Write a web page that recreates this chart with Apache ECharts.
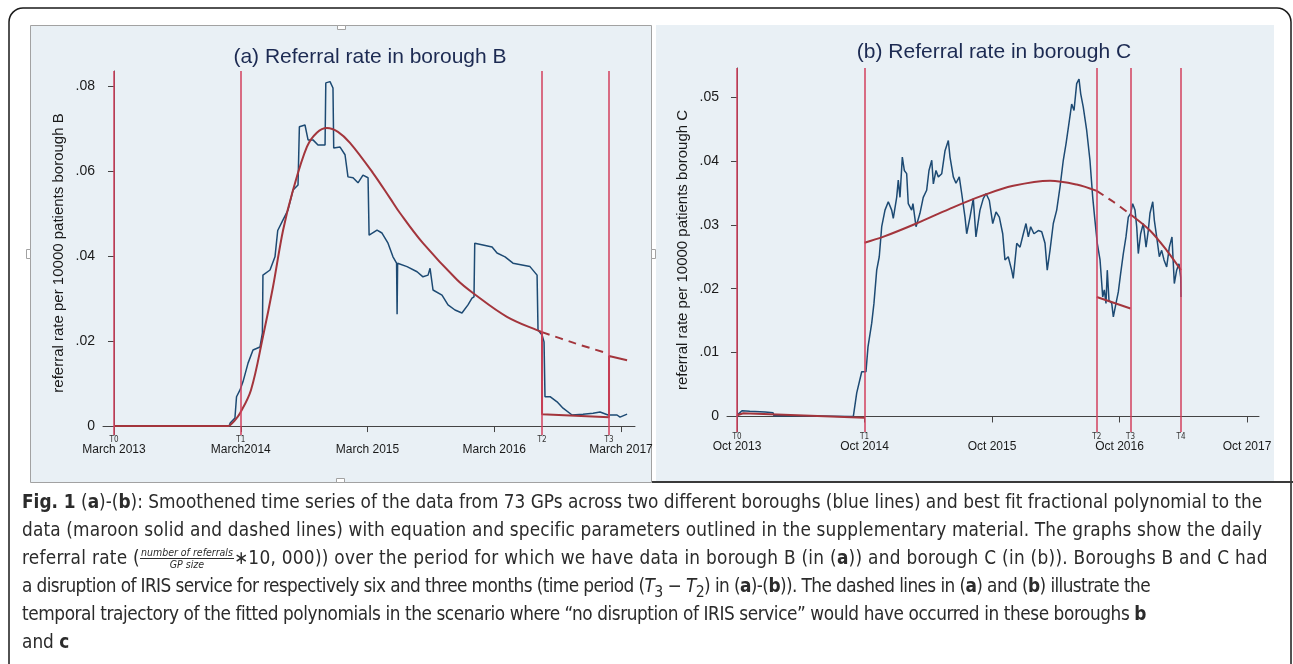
<!DOCTYPE html>
<html>
<head>
<meta charset="utf-8">
<title>Referral rate in boroughs B and C</title>
<script src="https://cdn.jsdelivr.net/npm/echarts@6/dist/echarts.min.js"></script>
<style>
  html, body { margin: 0; padding: 0; background: #fff; }
  #chart { position: absolute; left: 0; top: 0; width: 1293px; height: 664px; }
  #caption {
    position: absolute; left: 22px; top: 488px;
    font-family: "DejaVu Sans Condensed", "Open Sans", sans-serif;
    font-size: 17px; color: #2b2b2b; white-space: nowrap;
  }
  #caption .ln { height: 28.1px; line-height: 28.1px; }
  .frac { display: inline-block; vertical-align: middle; text-align: center;
          font-size: 10.5px; font-style: italic; line-height: 11px; letter-spacing: 0; }
  .frac span { display: block; padding: 0 1px; }
  .frac .num { border-bottom: 1px solid #2b2b2b; }
</style>
</head>
<body>
<div id="chart"></div>
<div id="caption">
  <div class="ln"><span class="t"><b>Fig. 1</b> (<b>a</b>)-(<b>b</b>): Smoothened time series of the data from 73 GPs across two different boroughs (blue lines) and best fit fractional polynomial to the</span></div>
  <div class="ln"><span class="t">data (maroon solid and dashed lines) with equation and specific parameters outlined in the supplementary material. The graphs show the daily</span></div>
  <div class="ln"><span class="t">referral rate (<span class="frac"><span class="num">number of referrals</span><span class="den">GP size</span></span>∗10, 000)) over the period for which we have data in borough B (in (<b>a</b>)) and borough C (in (b)). Boroughs B and C had</span></div>
  <div class="ln"><span class="t">a disruption of IRIS service for respectively six and three months (time period (<i>T</i><sub>3</sub> − <i>T</i><sub>2</sub>) in (<b>a</b>)-(<b>b</b>)). The dashed lines in (<b>a</b>) and (<b>b</b>) illustrate the</span></div>
  <div class="ln"><span class="t">temporal trajectory of the fitted polynomials in the scenario where “no disruption of IRIS service” would have occurred in these boroughs <b>b</b></span></div>
  <div class="ln"><span class="t">and <b>c</b></span></div>
</div>
<script>
// x = months since March 2013 (panel a) / since Oct 2013 (panel b)
const tickMonthsA = [0, 12, 24, 36, 48];
const tickLabelsA = ['March 2013', 'March2014', 'March 2015', 'March 2016', 'March 2017'];
const tickMonthsB = [0, 12, 24, 36, 48];
const tickLabelsB = ['Oct 2013', 'Oct 2014', 'Oct 2015', 'Oct 2016', 'Oct 2017'];
const yTicksA = [0, 0.02, 0.04, 0.06, 0.08];
const yTicksB = [0, 0.01, 0.02, 0.03, 0.04, 0.05];

const eventsA = [0, 12.0, 40.52, 46.86];
const eventNamesA = ['T0', 'T1', 'T2', 'T3'];
const eventsB = [0, 12.0, 33.86, 37.04, 41.79];
const eventNamesB = ['T0', 'T1', 'T2', 'T3', 'T4'];

// borough B, smoothed daily referral rate
const rateA = [
  [0, 0], [10.9, 0], [11.0, 0.0007], [11.45, 0.0019], [11.6, 0.0069], [11.93, 0.0085],
  [12.21, 0.0104], [12.69, 0.0148], [13.16, 0.0179], [13.82, 0.0186], [14.05, 0.0219],
  [14.1, 0.0355], [14.77, 0.0367], [15.24, 0.0398], [15.5, 0.046], [16.0, 0.0485],
  [16.47, 0.0508], [16.95, 0.0555], [17.42, 0.0567], [17.55, 0.0704], [18.08, 0.0708],
  [18.37, 0.0673], [18.84, 0.0673], [19.31, 0.0661], [19.98, 0.0661], [20.05, 0.0807],
  [20.45, 0.081], [20.73, 0.0795], [20.8, 0.0654], [21.4, 0.0656], [21.87, 0.0638],
  [22.15, 0.0586], [22.63, 0.0584], [23.1, 0.0572], [23.57, 0.059], [24.05, 0.0584],
  [24.15, 0.0449], [24.9, 0.0461], [25.37, 0.0454], [25.94, 0.043], [26.41, 0.0398],
  [26.75, 0.0383], [26.8, 0.0263], [26.85, 0.0383], [27.74, 0.0375], [28.69, 0.0363],
  [29.25, 0.0351], [29.73, 0.0355], [29.92, 0.0371], [30.2, 0.032], [31.05, 0.0308],
  [31.62, 0.0285], [32.28, 0.0273], [32.94, 0.0266], [33.51, 0.0285], [33.89, 0.0301],
  [34.08, 0.0304], [34.15, 0.043], [34.93, 0.0426], [35.79, 0.0421], [36.26, 0.0407],
  [37.02, 0.0398], [37.77, 0.0383], [38.63, 0.0379], [39.38, 0.0375], [40.05, 0.0355],
  [40.14, 0.0226], [40.52, 0.0214], [40.71, 0.0198], [40.8, 0.0069], [41.28, 0.0069],
  [41.94, 0.0057], [42.51, 0.0042], [43.36, 0.0026], [44.4, 0.0028], [45.35, 0.003],
  [46.01, 0.0033], [46.77, 0.0026], [47.62, 0.0026], [47.9, 0.0021], [48.57, 0.0028]
];
// fractional polynomial fit, borough B
const fitFlatA = [[0, 0], [10.9, 0]];
const fitA = [
  [10.9, 0], [11.4, 0.0012], [11.93, 0.003], [12.97, 0.0085], [14.1, 0.021],
  [15.05, 0.0327], [16.0, 0.046], [16.95, 0.0555], [18.27, 0.0657], [19.2, 0.069],
  [20.16, 0.0701], [21.2, 0.0692], [22.34, 0.0666], [24.52, 0.0595], [26.13, 0.0536],
  [27.07, 0.0501], [29.25, 0.043], [32.47, 0.0344], [33.98, 0.0313], [37.2, 0.0257],
  [40.52, 0.0221]
];
const fitDisruptA = [[40.52, 0.0221], [40.52, 0.0028], [46.86, 0.0021], [46.86, 0.0165], [48.57, 0.0155]];
const fitNoDisruptA = [[40.52, 0.0221], [43.6, 0.0195], [46.86, 0.017]];

// borough C
const rateB = [
  [0, 0], [0.15, 0.0004], [0.47, 0.0009], [1.2, 0.0008], [2.64, 0.0007], [3.39, 0.0006],
  [3.48, 0.0001], [6, 0.0001], [10.64, 0], [10.95, 0], [11.27, 0.0037], [11.74, 0.007],
  [12.14, 0.007], [12.33, 0.0109], [12.68, 0.0146], [12.89, 0.0177], [13.15, 0.0229],
  [13.39, 0.025], [13.62, 0.0297], [13.93, 0.0323], [14.24, 0.0336], [14.56, 0.0323],
  [14.71, 0.031], [15.03, 0.0343], [15.18, 0.037], [15.34, 0.0343], [15.56, 0.0406],
  [15.75, 0.0385], [15.97, 0.038], [16.12, 0.0333], [16.44, 0.0323], [16.56, 0.0333],
  [16.85, 0.0297], [17.22, 0.0318], [17.53, 0.0343], [17.85, 0.0354], [18.07, 0.0385],
  [18.33, 0.0401], [18.48, 0.0364], [18.73, 0.0385], [18.95, 0.0375], [19.27, 0.038],
  [19.58, 0.0416], [19.89, 0.0432], [20.05, 0.0406], [20.36, 0.0375], [20.61, 0.0365],
  [20.92, 0.0375], [21.15, 0.0349], [21.46, 0.0312], [21.62, 0.0286], [21.93, 0.0312],
  [22.24, 0.0341], [22.49, 0.0281], [22.87, 0.0323], [23.18, 0.0341], [23.44, 0.0349],
  [23.75, 0.0338], [24.07, 0.0302], [24.38, 0.032], [24.69, 0.0312], [25.01, 0.0286],
  [25.22, 0.0245], [25.53, 0.025], [25.85, 0.0229], [26.0, 0.0216], [26.33, 0.0271],
  [26.64, 0.0265], [26.95, 0.0286], [27.2, 0.0302], [27.42, 0.0281], [27.64, 0.0297],
  [27.95, 0.0286], [28.36, 0.0291], [28.68, 0.0289], [28.99, 0.0271], [29.2, 0.0229],
  [29.46, 0.026], [29.77, 0.0302], [30.09, 0.0323], [30.4, 0.0359], [30.71, 0.0401],
  [30.97, 0.0427], [31.28, 0.0463], [31.5, 0.0489], [31.72, 0.0479], [31.97, 0.0521],
  [32.19, 0.0528], [32.35, 0.0505], [32.59, 0.0484], [32.91, 0.0448], [33.22, 0.0401],
  [33.48, 0.0343], [33.69, 0.0307], [33.91, 0.0271], [34.17, 0.0245], [34.42, 0.0187],
  [34.57, 0.0198], [34.73, 0.0177], [34.85, 0.0229], [35.01, 0.0182], [35.27, 0.0177],
  [35.42, 0.0156], [35.67, 0.0177], [35.89, 0.0195], [36.11, 0.0224], [36.36, 0.0255],
  [36.61, 0.0281], [36.83, 0.0312], [37.05, 0.0318], [37.24, 0.0333], [37.46, 0.0323],
  [37.62, 0.0297], [37.77, 0.0255], [37.99, 0.0286], [38.24, 0.0302], [38.5, 0.0265],
  [38.71, 0.0291], [38.87, 0.0318], [39.13, 0.0336], [39.28, 0.0307], [39.5, 0.0281],
  [39.75, 0.025], [39.97, 0.026], [40.19, 0.0245], [40.44, 0.0234], [40.69, 0.0265],
  [40.94, 0.0281], [41.16, 0.0208], [41.38, 0.0229], [41.6, 0.0239], [41.76, 0.0218],
  [41.79, 0.0187]
];
const fitPreB = [[0, 0.0002], [0.6, 0.0005], [12.0, -0.0002]];
const fitB = [
  [12.0, 0.0272], [13.74, 0.0281], [16.88, 0.0302], [20.01, 0.0325], [23.15, 0.0346],
  [26.0, 0.0361], [29.46, 0.0369], [31.97, 0.0363], [33.86, 0.0353]
];
const fitNoDisruptB = [[33.86, 0.0353], [35.42, 0.0336], [37.04, 0.0316]];
const fitDisruptB = [[33.86, 0.0187], [37.04, 0.0169]];
const fitAfterB = [[37.04, 0.0316], [38.87, 0.0291], [40.44, 0.026], [41.79, 0.0229]];

const NAVY = '#1d4a73';
const MAROON = '#a3353c';
const TRED = '#d2405d';
const BG = '#e9f0f5';
const FRAME = '#a2a2a2';

function yFmt(v) {
  return v === 0 ? '0' : v.toFixed(2).replace(/^0/, '');
}

function xAxisFor(grid, min, max, ticks, labels) {
  return {
    type: 'value', gridIndex: grid, min: min, max: max,
    axisLine: { show: true, lineStyle: { color: '#444', width: 1 } },
    axisTick: { show: true, customValues: ticks, length: 6, lineStyle: { color: '#444' } },
    axisLabel: {
      customValues: ticks, margin: 9, fontSize: 12, color: '#1a1a1a',
      fontFamily: 'Liberation Sans',
      formatter: function (v) { return labels[ticks.indexOf(v)]; }
    },
    splitLine: { show: false }
  };
}

function yAxisFor(grid, min, max, ticks, name) {
  return {
    type: 'value', gridIndex: grid, min: min, max: max,
    name: name, nameLocation: 'middle', nameGap: 37, nameRotate: 90,
    nameTextStyle: { fontSize: 15, color: '#1a1a1a', fontFamily: 'Liberation Sans' },
    axisLine: { show: true, lineStyle: { color: '#444', width: 1 } },
    axisTick: { show: true, customValues: ticks, length: 6, lineStyle: { color: '#444' } },
    axisLabel: {
      customValues: ticks, margin: 8, fontSize: 14, color: '#1a1a1a',
      fontFamily: 'Liberation Sans', formatter: yFmt
    },
    splitLine: { show: false }
  };
}

function eventLines(xs, names) {
  return {
    silent: true, symbol: ['none', 'none'],
    lineStyle: { color: TRED, width: 1.5, type: 'solid' },
    label: {
      show: true, position: 'start', distance: 1, fontSize: 8, color: '#333',
      fontFamily: 'DejaVu Sans Condensed',
      formatter: function (p) { return names[xs.indexOf(p.value)]; }
    },
    data: xs.map(function (x) { return { xAxis: x }; })
  };
}

function lineSeries(grid, data, color, width, extra) {
  return Object.assign({
    type: 'line', xAxisIndex: grid, yAxisIndex: grid, data: data,
    showSymbol: false, symbol: 'none', silent: true,
    lineStyle: { color: color, width: width }
  }, extra || {});
}

// small tabs on the frame of panel (a)
function tab(x, y, w, h) {
  return { type: 'rect', z: -8, shape: { x: x, y: y, width: w, height: h },
           style: { fill: '#fff', stroke: FRAME, lineWidth: 1 } };
}

const chart = echarts.init(document.getElementById('chart'), null, { renderer: 'canvas' });

chart.setOption({
  animation: false,
  backgroundColor: '#fff',
  textStyle: { fontFamily: 'Liberation Sans' },
  graphic: [
    { type: 'rect', z: -20, shape: { x: 9, y: 8, width: 1282, height: 720, r: 14 },
      style: { fill: '#fff', stroke: '#1a1a1a', lineWidth: 1.5 } },
    { type: 'rect', z: -10, shape: { x: 30.5, y: 25.5, width: 621, height: 457 },
      style: { fill: BG, stroke: FRAME, lineWidth: 1 } },
    { type: 'rect', z: -10, shape: { x: 656, y: 25, width: 618, height: 456 },
      style: { fill: BG } },
    { type: 'line', z: -9, shape: { x1: 652, y1: 482, x2: 1293, y2: 482 },
      style: { stroke: '#3a3a3a', lineWidth: 2 } },
    tab(337.5, 25.5, 8, 4), tab(26.5, 249.5, 4, 9), tab(651.5, 249.5, 4, 9), tab(336.5, 478.5, 8, 4),
    { type: 'text', x: 370, y: 57,
      style: { text: '(a) Referral rate in borough B', fill: '#1c2a52', fontSize: 21,
               fontFamily: 'Liberation Sans', align: 'center', verticalAlign: 'middle' } },
    { type: 'text', x: 994, y: 52,
      style: { text: '(b) Referral rate in borough C', fill: '#1c2a52', fontSize: 21,
               fontFamily: 'Liberation Sans', align: 'center', verticalAlign: 'middle' } }
  ],
  grid: [
    { left: 103, top: 71, width: 532, height: 364 },
    { left: 727, top: 68, width: 532, height: 364 }
  ],
  xAxis: [
    xAxisFor(0, -1.04, 49.32, tickMonthsA, tickLabelsA),
    xAxisFor(1, -0.94, 49.13, tickMonthsB, tickLabelsB)
  ],
  yAxis: [
    yAxisFor(0, -0.0021, 0.0835, yTicksA, 'referral rate per 10000 patients borough B'),
    yAxisFor(1, -0.00243, 0.05454, yTicksB, 'referral rate per 10000 patients borough C')
  ],
  series: [
    lineSeries(0, [], TRED, 1.5, { markLine: eventLines(eventsA, eventNamesA), z: 1 }),
    lineSeries(0, rateA, NAVY, 1.5, { z: 3 }),
    lineSeries(0, fitFlatA, MAROON, 2, { z: 4 }),
    lineSeries(0, fitA, MAROON, 2, { z: 4, smooth: 0.35 }),
    lineSeries(0, fitDisruptA, MAROON, 2, { z: 4 }),
    lineSeries(0, fitNoDisruptA, MAROON, 2, { z: 4, smooth: 0.3, lineStyle: { color: MAROON, width: 2, type: [8, 6] } }),

    lineSeries(1, [], TRED, 1.5, { markLine: eventLines(eventsB, eventNamesB), z: 1 }),
    lineSeries(1, rateB, NAVY, 1.5, { z: 3 }),
    lineSeries(1, fitPreB, MAROON, 2, { z: 4 }),
    lineSeries(1, fitB, MAROON, 2, { z: 4, smooth: 0.35 }),
    lineSeries(1, fitNoDisruptB, MAROON, 2, { z: 4, smooth: 0.3, lineStyle: { color: MAROON, width: 2, type: [8, 6] } }),
    lineSeries(1, fitDisruptB, MAROON, 2, { z: 4 }),
    lineSeries(1, fitAfterB, MAROON, 2, { z: 4, smooth: 0.3 })
  ]
});

// size the caption so its first line spans the printed text block,
// then nudge the letter spacing of each line to the width it has in the figure
const lineWidths = [1240, 1240, 1246, 1128, 1124];
const cap = document.getElementById('caption');
const lines = document.querySelectorAll('#caption .t');
const w1 = lines[0].getBoundingClientRect().width;
cap.style.fontSize = (17 * lineWidths[0] / w1).toFixed(2) + 'px';
lines.forEach(function (el, i) {
  if (i >= lineWidths.length) return;
  const n = el.textContent.length;
  let ls = 0;
  for (let k = 0; k < 3; k++) {
    el.style.letterSpacing = ls.toFixed(3) + 'px';
    ls += (lineWidths[i] - el.getBoundingClientRect().width) / n;
  }
  el.style.letterSpacing = ls.toFixed(3) + 'px';
});
</script>
</body>
</html>
